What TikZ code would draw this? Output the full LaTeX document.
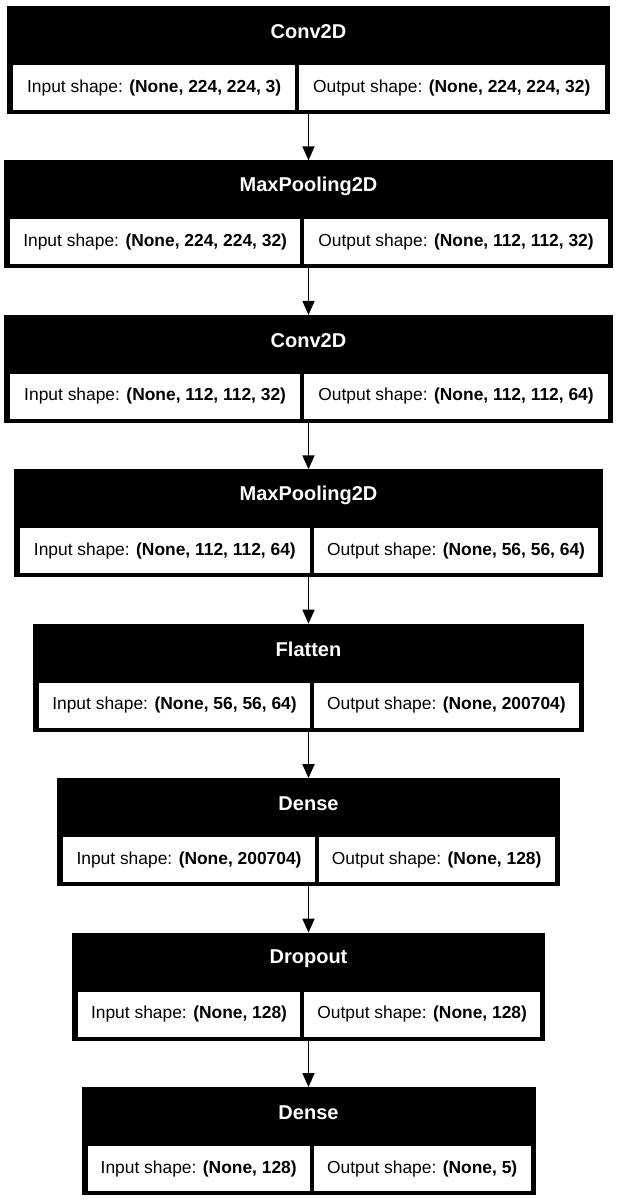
\documentclass[tikz,border=0pt]{standalone}
\usepackage{fontspec}
\setmainfont{Liberation Sans}
\usetikzlibrary{arrows.meta}
\tikzset{
  blk/.style={draw=black, fill=black, line width=1pt, minimum height=107pt, inner sep=0pt, anchor=north},
  cell/.style={draw=black, fill=white, line width=1pt, minimum height=46pt, inner sep=0pt, anchor=north west, font=\fontsize{17.4}{20}\selectfont},
  ttl/.style={text=white, inner sep=0pt, font=\bfseries\fontsize{20}{24}\selectfont},
  flow/.style={-{Triangle[length=14pt,width=12pt]}, line width=1.8pt, draw=black}
}
\newcommand\layerblock[7]{%
  \pgfmathsetmacro\lyrW{#4+#5+12}%
  \pgfmathsetmacro\lyrL{308.5-\lyrW/2}%
  \node[blk, minimum width=\lyrW pt] (#1) at (308.5,#2) {};
  \node[ttl] (#1-t) at (308.5,#2+26) {#3};
  \node[cell, minimum width=#4pt] (#1-in) at (\lyrL+4.5,#2+58) {Input shape: \textbf{#6}};
  \node[cell, minimum width=#5pt] (#1-out) at (\lyrL+4.5+#4+3,#2+58) {Output shape: \textbf{#7}};
}
\begin{document}
\begin{tikzpicture}[x=1pt,y=-1pt]
\useasboundingbox[fill=white] (0,0) rectangle (617,1200);
\layerblock{b1}{6}{Conv2D}{282.4}{306.7}{(None, 224, 224, 3)}{(None, 224, 224, 32)}
\layerblock{b2}{160.4}{MaxPooling2D}{291.1}{304.7}{(None, 224, 224, 32)}{(None, 112, 112, 32)}
\layerblock{b3}{314.9}{Conv2D}{291.1}{304.7}{(None, 112, 112, 32)}{(None, 112, 112, 64)}
\layerblock{b4}{469.3}{MaxPooling2D}{291.1}{285.3}{(None, 112, 112, 64)}{(None, 56, 56, 64)}
\layerblock{b5}{623.7}{Flatten}{271.8}{266.0}{(None, 56, 56, 64)}{(None, 200704)}
\layerblock{b6}{778.1}{Dense}{252.4}{236.9}{(None, 200704)}{(None, 128)}
\layerblock{b7}{932.6}{Dropout}{223.4}{236.9}{(None, 128)}{(None, 128)}
\layerblock{b8}{1087}{Dense}{223.4}{217.6}{(None, 128)}{(None, 5)}
\draw[flow] (b1.south) -- (b2.north);
\draw[flow] (b2.south) -- (b3.north);
\draw[flow] (b3.south) -- (b4.north);
\draw[flow] (b4.south) -- (b5.north);
\draw[flow] (b5.south) -- (b6.north);
\draw[flow] (b6.south) -- (b7.north);
\draw[flow] (b7.south) -- (b8.north);
\end{tikzpicture}
\end{document}
